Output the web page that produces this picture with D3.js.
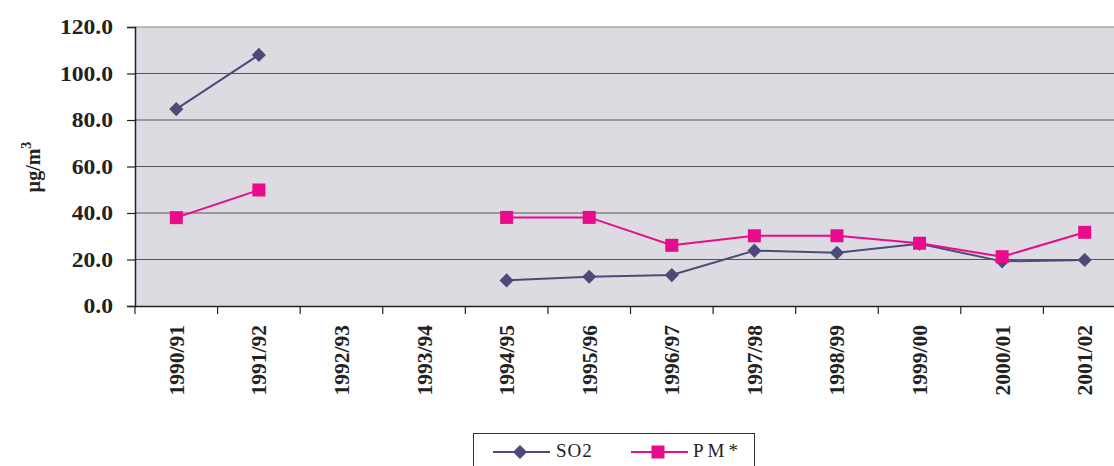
<!DOCTYPE html>
<html><head><meta charset="utf-8">
<script src="https://cdn.jsdelivr.net/npm/d3@7"></script>
<style>body{margin:0;background:#fff;} svg{display:block;} text{font-family:"Liberation Serif","Times New Roman",serif;}</style>
</head><body>
<svg id="c" width="1114" height="466"></svg>
<script>
const categories = ["1990/91","1991/92","1992/93","1993/94","1994/95","1995/96","1996/97","1997/98","1998/99","1999/00","2000/01","2001/02"];
const so2 = [84.7, 108, null, null, 11.0, 12.6, 13.3, 23.8, 22.9, 26.8, 19.2, 19.8];
const pm  = [38.0, 49.9, null, null, 38.1, 38.1, 26.1, 30.2, 30.2, 27.0, 21.2, 31.7];
const yTicks = [0, 20, 40, 60, 80, 100, 120];
const seriesNames = ["SO2", "PM*"];

const svg = d3.select("#c");
const L = 135, T = 27, R = 1126, B = 306;
const x = d3.scaleBand().domain(categories).range([L, R]).padding(0);
const y = d3.scaleLinear().domain([0, 120]).range([B, T]);
const cSO2 = "#4d4a7a", cPM = "#ea0a8c";

svg.append("rect").attr("x", L).attr("y", T).attr("width", R - L).attr("height", B - T).attr("fill", "#dcdbe1");
svg.append("g").selectAll("line").data(yTicks.filter(d => d > 0)).join("line")
  .attr("x1", L).attr("x2", R).attr("y1", d => y(d)).attr("y2", d => y(d))
  .attr("stroke", d => d === 120 ? "#888" : "#555").attr("stroke-width", 1.2);

// y axis
const ya = svg.append("g").attr("transform", `translate(${L},0)`)
  .call(d3.axisLeft(y).tickValues(yTicks).tickFormat(d3.format(".1f")).tickSize(8));
ya.select(".domain").attr("stroke", "#222").attr("stroke-width", 1.5);
ya.selectAll(".tick line").attr("stroke", "#222").attr("stroke-width", 1.2);
ya.selectAll("text").attr("font-weight", "bold")
  .attr("font-size", 20).attr("fill", "#222").attr("text-anchor", "end")
  .attr("transform", "translate(-22,0) scale(1.18,1)").attr("x", 0)
  .attr("dy", "0.34em");

// x axis
const xa = svg.append("g").attr("transform", `translate(0,${B})`)
  .call(d3.axisBottom(x).tickSize(0).tickFormat(d => d));
xa.select(".domain").attr("stroke", "#222").attr("stroke-width", 1.5);
xa.selectAll(".tick line").remove();
svg.append("g").selectAll("line").data(categories).join("line")
  .attr("x1", d => x(d)).attr("x2", d => x(d)).attr("y1", B).attr("y2", B + 8)
  .attr("stroke", "#222").attr("stroke-width", 1.2);
xa.selectAll("text").attr("font-weight", "bold")
  .attr("font-size", 21.5).attr("fill", "#222")
  .attr("transform", "rotate(-90)").attr("text-anchor", "end")
  .attr("x", -19).attr("y", 0).attr("dy", "0.35em");

// y label
svg.append("text").attr("transform", "translate(40,167) rotate(-90)")
  .attr("text-anchor", "middle").attr("font-weight", "bold")
  .attr("font-size", 20).attr("fill", "#222")
  .html('µg/m<tspan dy="-9" font-size="14">3</tspan>');

const cx = d => x(d) + x.bandwidth() / 2;
const line = d3.line().defined(d => d.v != null).x(d => cx(d.c)).y(d => y(d.v));

function series(vals, color, diamond) {
  const pts = categories.map((c, i) => ({c, v: vals[i]}));
  svg.append("path").datum(pts).attr("d", line).attr("fill", "none").attr("stroke", color).attr("stroke-width", 2);
  const g = svg.append("g").selectAll("rect").data(pts.filter(d => d.v != null)).join("rect").attr("fill", color);
  if (diamond) g.attr("x", -5).attr("y", -5).attr("width", 10).attr("height", 10)
    .attr("transform", d => `translate(${cx(d.c)},${y(d.v)}) rotate(45)`);
  else g.attr("x", d => cx(d.c) - 6.5).attr("y", d => y(d.v) - 6.5).attr("width", 13).attr("height", 13);
}
series(so2, cSO2, true);
series(pm, cPM, false);

// legend
const lg = svg.append("g");
lg.append("rect").attr("x", 473.5).attr("y", 433.5).attr("width", 281).attr("height", 40)
  .attr("fill", "#fff").attr("stroke", "#333").attr("stroke-width", 1);
const ly = 452;
const items = [{name: seriesNames[0], c: cSO2, x0: 493, diamond: true, tx: 556, ls: 1},
               {name: seriesNames[1], c: cPM, x0: 631, diamond: false, tx: 693, ls: 4}];
items.forEach(it => {
  lg.append("line").attr("x1", it.x0).attr("x2", it.x0 + 57).attr("y1", ly).attr("y2", ly).attr("stroke", it.c).attr("stroke-width", 2);
  const mx = it.x0 + 27;
  if (it.diamond) lg.append("rect").attr("x", -5).attr("y", -5).attr("width", 10).attr("height", 10)
    .attr("transform", `translate(${mx},${ly}) rotate(45)`).attr("fill", it.c);
  else lg.append("rect").attr("x", mx - 6.5).attr("y", ly - 6.5).attr("width", 13).attr("height", 13).attr("fill", it.c);
  lg.append("text").attr("x", it.tx).attr("y", 457)
    .attr("font-size", 19).attr("fill", "#222")
    .attr("letter-spacing", it.ls).text(it.name);
});
</script>
</body></html>
